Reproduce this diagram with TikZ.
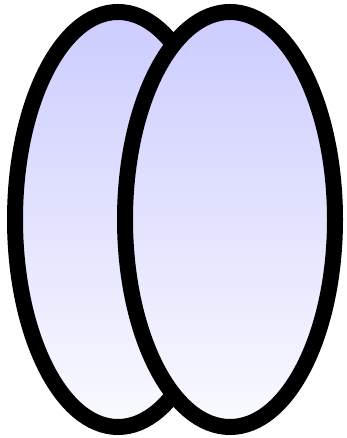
\documentclass[tikz,border=0pt]{standalone}
\usepackage{tikz}
\tikzset{disc/.style={draw=black,line width=16pt,top color=blue!20,bottom color=blue!2}}
\begin{document}
\begin{tikzpicture}[x=1pt,y=1pt]
 \useasboundingbox (0,0) rectangle (346,438);
 \draw[disc] (118,218.5) ellipse[x radius=103,y radius=207.5];
 \draw[disc] (230,218.5) ellipse[x radius=105,y radius=207.5];
\end{tikzpicture}
\end{document}
